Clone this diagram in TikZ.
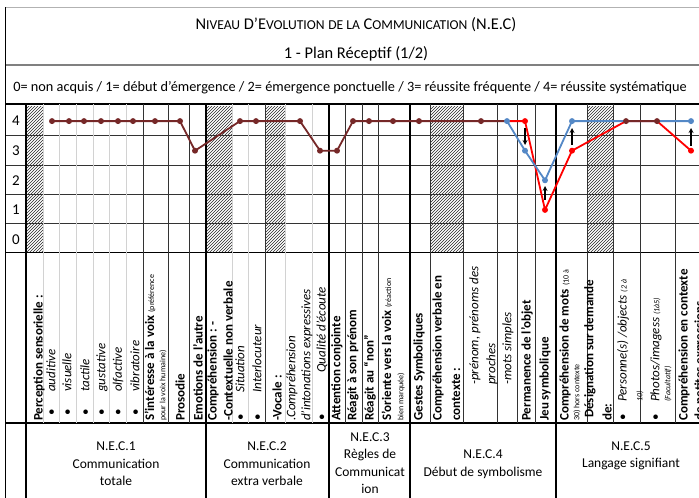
\documentclass[tikz,border=0pt]{standalone}
\usepackage{fontspec}
\setmainfont{Carlito}
\usetikzlibrary{patterns}

\definecolor{brun}{RGB}{118,40,40}
\definecolor{bleu}{RGB}{84,136,198}
\definecolor{rouge}{RGB}{255,0,0}

\newcommand{\pc}[1]{{\fontsize{13.6}{16}\selectfont #1}}
\newcommand{\petit}[1]{{\fontsize{8}{10}\selectfont\mdseries #1}}
\newcommand{\puce}[2]{{\upshape\mdseries •}\hspace{#1}#2}

\tikzset{
  titre/.style={anchor=base, inner sep=0pt, font=\fontsize{16.4}{19}\selectfont},
  legende/.style={anchor=base, inner sep=0pt, font=\fontsize{14.3}{17}\selectfont},
  niveau/.style={inner sep=0pt, font=\fontsize{15}{18}\selectfont},
  colbf/.style={rotate=90, anchor=west, inner sep=0pt, font=\fontsize{13}{15}\selectfont\bfseries},
  colit/.style={rotate=90, anchor=west, inner sep=0pt, font=\fontsize{13}{15}\selectfont\itshape},
  colsm/.style={rotate=90, anchor=west, inner sep=0pt, font=\fontsize{8}{10}\selectfont},
  nec/.style={align=center, inner sep=0pt, font=\fontsize{13.5}{17.5}\selectfont},
  hachure/.style={pattern=north east lines, pattern color=black!85},
  fort/.style={line width=1.6pt},
  moyen/.style={line width=0.8pt, black!80},
  clair/.style={line width=0.8pt, gray!35},
  serie/.style={line width=1.8pt, line join=round},
  fleche/.style={->, >=stealth, line width=1.2pt}
}

\begin{document}
\begin{tikzpicture}[x=1pt,y=-1pt]
  \useasboundingbox (0,0) rectangle (699,498);

  % en-tete
  \node[titre] (t1) at (356,29) {N\pc{IVEAU} D’E\pc{VOLUTION} \pc{DE LA} C\pc{OMMUNICATION} (N.E.C)};
  \node[titre] (t2) at (356,58) {1 - Plan Réceptif (1/2)};
  \node[legende] (leg) at (350,91) {0= non acquis / 1= début d'émergence / 2= émergence ponctuelle / 3= réussite fréquente / 4= réussite systématique};

  % hachures
  \foreach \xa/\xb in {26/43,206/232,265/285,430/463,587/613}
    \fill[hachure] (\xa,106) rectangle (\xb,252);

  % lignes horizontales
  \draw[gray!60, line width=0.8pt] (5,7) -- (699,7);
  \draw[gray, line width=1.6pt] (5,65) -- (699,65);
  \draw[fort] (5,104) -- (699,104);
  \foreach \y in {135,165,194,223}
    \draw[moyen] (5,\y) -- (699,\y);
  \draw[line width=1pt] (5,252) -- (699,252);
  \draw[fort] (5,423) -- (699,423);

  % lignes verticales
  \draw[line width=1pt] (5,7) -- (5,498);
  \foreach \x in {43,59,76,93,109,126,232,248,285,312}
    \draw[clair] (\x,104) -- (\x,423);
  \foreach \x in {143,168,189,265,345,362,378,430,463,497,517,535,587,613,640,675}
    \draw[moyen] (\x,104) -- (\x,423);
  \foreach \x in {26,206,329,410,556}
    \draw[fort] (\x,104) -- (\x,498);

  % niveaux
  \foreach \v in {0,...,4}
    \node[niveau] (n\v) at (16,{239.5-29.6*\v}) {\v};

  % points
  \foreach \n/\x/\v in {1/52/4,2/69/4,3/84/4,4/101/4,5/118/4,6/133/4,7/155/4,8/180/4,
      9/195/3,10/240/4,11/256/4,12/300/4,13/320/3,14/337/3,15/353/4,16/369/4,
      17/393/4,18/419/4,19/481/4,20/626/4,21/657/4}
    \coordinate (b\n) at (\x,{239.5-29.6*\v});
  \foreach \n/\x/\v in {1/507/4,2/525/3,3/545/2,4/572/4,5/626/4,6/657/4,7/691/4}
    \coordinate (u\n) at (\x,{239.5-29.6*\v});
  \foreach \n/\x/\v in {1/507/4,2/525/4,3/545/1,4/572/3,5/626/4,6/657/4,7/691/3}
    \coordinate (r\n) at (\x,{239.5-29.6*\v});

  \draw[serie, rouge] (r1) -- (r2) -- (r3) -- (r4) -- (r5) -- (r6) -- (r7);
  \draw[serie, bleu] (u1) -- (u2) -- (u3) -- (u4) -- (u5) -- (u6) -- (u7);
  \draw[serie, brun] (b1) -- (b2) -- (b3) -- (b4) -- (b5) -- (b6) -- (b7) -- (b8)
    -- (b9) -- (b10) -- (b11) -- (b12) -- (b13) -- (b14) -- (b15) -- (b16)
    -- (b17) -- (b18) -- (b19) -- (u1);
  \draw[serie, brun] (b20) -- (b21);
  \foreach \p in {r2,r3,r4,r7}
    \fill[rouge] (\p) circle (3pt);
  \foreach \p in {u1,u2,u3,u4,u7}
    \fill[bleu] (\p) circle (3pt);
  \foreach \n in {1,...,21}
    \fill[brun] (b\n) circle (3pt);

  % fleches
  \coordinate (f1a) at (525,128); \coordinate (f1b) at (525,145);
  \coordinate (f2a) at (545,200); \coordinate (f2b) at (545,186);
  \coordinate (f3a) at (572,145); \coordinate (f3b) at (572,128);
  \coordinate (f4a) at (691,146); \coordinate (f4b) at (691,128);
  \draw[fleche] (f1a) -- (f1b);
  \draw[fleche] (f2a) -- (f2b);
  \draw[fleche] (f3a) -- (f3b);
  \draw[fleche] (f4a) -- (f4b);

  % intitules N.E.C.1
  \node[colbf] (c1) at (39,421) {Perception sensorielle :};
  \node[colit] (c2) at (51,416) {\puce{17.5pt}{auditive}};
  \node[colit] (c3) at (67,416) {\puce{17.5pt}{visuelle}};
  \node[colit] (c4) at (85,416) {\puce{17.5pt}{tactile}};
  \node[colit] (c5) at (102,416) {\puce{17.5pt}{gustative}};
  \node[colit] (c6) at (118,416) {\puce{17.5pt}{olfactive}};
  \node[colit] (c7) at (135,416) {\puce{17.5pt}{vibratoire}};
  \node[colbf] (c8) at (150,421) {S'intéresse à la voix \petit{(préférence}};
  \node[colsm] (c9) at (163,421) {pour la voix humaine)};
  \node[colbf] (c10) at (180,421) {Prosodie};
  \node[colbf] (c11) at (198,421) {Emotions de l'autre};
  % intitules N.E.C.2
  \node[colbf] (c12) at (213,421) {Compréhension : -};
  \node[colbf] (c13) at (228,421) {-Contextuelle non verbale};
  \node[colit] (c14) at (240,421) {\puce{21.5pt}{Situation}};
  \node[colit] (c15) at (257,421) {\puce{21.5pt}{Interlocuteur}};
  \node[colbf] (c16) at (277,421) {-Vocale :};
  \node[colit] (c17) at (292,421) {.Compréhension};
  \node[colit] (c18) at (307,421) {d’intonations expressives};
  \node[colit] (c19) at (322,421) {\puce{41.5pt}{Qualité d’écoute}};
  % intitules N.E.C.3
  \node[colbf] (c20) at (337,421) {Attention conjointe};
  \node[colbf] (c21) at (353,421) {Réagit à son prénom};
  \node[colbf] (c22) at (370,421) {Réagit au “non”};
  \node[colbf] (c23) at (387,421) {S'oriente vers la voix \petit{(réaction}};
  \node[colsm] (c24) at (401,421) {bien marquée)};
  % intitules N.E.C.4
  \node[colbf] (c25) at (419,421) {Gestes Symboliques};
  \node[colbf] (c26) at (438,421) {Compréhension verbale en};
  \node[colbf] (c27) at (456,421) {contexte :};
  \node[colit] (c28) at (475,385) {-prénom, prénoms des};
  \node[colit] (c29) at (492,385) {proches};
  \node[colit] (c30) at (508,385) {-mots simples};
  \node[colbf] (c31) at (527,421) {Permanence de l’objet};
  \node[colbf] (c32) at (545,421) {Jeu symbolique};
  % intitules N.E.C.5
  \node[colbf] (c33) at (565,421) {Compréhension de mots \petit{(10 à}};
  \node[colsm] (c34) at (577,421) {30) hors contexte};
  \node[colbf] (c35) at (590,418) {Désignation sur demande};
  \node[colbf] (c36) at (607,421) {de:};
  \node[colit] (c37) at (623,421) {\puce{12.5pt}{Personne(s) /objects \petit{\itshape(2 à}}};
  \node[colsm, font=\fontsize{8}{10}\selectfont\itshape] (c38) at (640,402) {10)};
  \node[colit] (c39) at (656,421) {\puce{12.5pt}{Photos/imagess \petit{\itshape(1à5)}}};
  \node[colsm, font=\fontsize{8}{10}\selectfont\itshape] (c40) at (668,402) {(Facultatif)};
  \node[colbf] (c41) at (684,421) {Compréhension en contexte};
  \node[colbf] (c42) at (700,421) {de petites expressions};

  % niveaux N.E.C
  \node[nec] (nec1) at (116,464) {N.E.C.1\\Communication\\totale};
  \node[nec] (nec2) at (267,464) {N.E.C.2\\Communication\\extra verbale};
  \node[nec] (nec3) at (370,463) {N.E.C.3\\Règles de\\Communicat\\ion};
  \node[nec] (nec4) at (483,464) {N.E.C.4\\Début de symbolisme};
  \node[nec] (nec5) at (631,456) {N.E.C.5\\Langage signifiant};
\end{tikzpicture}
\end{document}
